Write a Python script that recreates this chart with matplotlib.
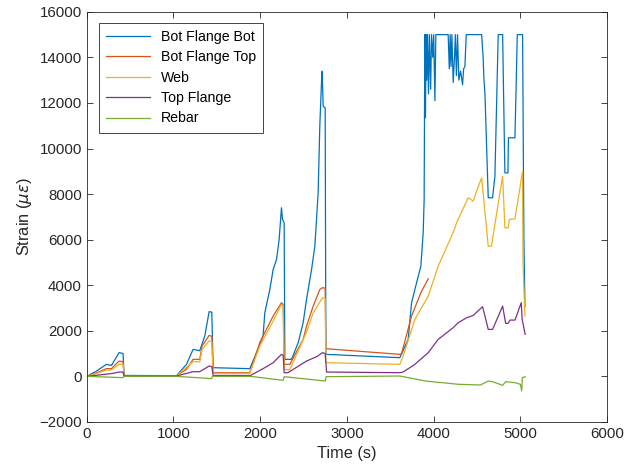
import matplotlib
matplotlib.use('Agg')
import matplotlib.pyplot as plt

plt.rcParams['font.family'] = ['Liberation Sans', 'DejaVu Sans']

# series (time s, strain microstrain)
t_bfb = [0, 100, 227, 285, 373, 411, 419, 430, 1035, 1150, 1226, 1303, 1361, 1411, 1442, 1457, 1880,
         1957, 2033, 2053, 2111, 2149, 2188, 2218, 2245, 2257, 2276, 2284, 2303, 2361, 2438,
         2495, 2534, 2592, 2630, 2668, 2687, 2707, 2714, 2726, 2749, 2757, 3610, 3706, 3745,
         3803, 3852, 3879, 3890, 3898, 3905, 3912, 3920, 3928, 3940, 3950, 3965,
         3975, 3990, 4000, 4014, 4025, 4167, 4180, 4190, 4200, 4210, 4225, 4240, 4250, 4262,
         4275, 4290, 4310, 4333, 4345, 4360, 4375, 4553, 4570, 4580, 4591, 4629, 4679, 4706,
         4744, 4795, 4805, 4821, 4856, 4862, 4937, 4964, 5025, 5040, 5052]
s_bfb = [0, 200, 526, 480, 1040, 1010, 1000, 40, 30, 526, 1184, 1127, 1770, 2837, 2820, 380, 338,
         1040, 1770, 2794, 3815, 4690, 5130, 6000, 7400, 6890, 6740, 746, 746, 746, 1477,
         2354, 3377, 4690, 5715, 8055, 10980, 12950, 13390, 11855, 11784, 965, 820, 1623, 3232,
         4110, 4838, 6300, 7760, 15000, 11350, 15000, 13000, 15000, 12400, 15000, 12600,
         15000, 14000, 15000, 12100, 15000, 15000, 13500, 15000, 13600, 15000, 12900, 14000, 15000, 13200,
         15000, 13000, 13400, 12800, 13500, 13600, 15000, 15000, 14000, 13000, 12400, 7840, 7840, 8790,
         15000, 15000, 12600, 8930, 8930, 10470, 10470, 15000, 15000, 6000, 3080]

t_bft = [0, 100, 227, 285, 373, 411, 419, 430, 1035, 1150, 1226, 1303, 1330, 1411, 1442, 1457, 1880,
         1995, 2033, 2149, 2245, 2265, 2276, 2341, 2495, 2534, 2611, 2687, 2718, 2749, 2757,
         3610, 3630, 3745, 3852, 3937]
s_bft = [0, 130, 338, 338, 672, 650, 640, 30, 30, 307, 746, 746, 1330, 1798, 1755, 160, 160,
         1477, 1770, 2645, 3232, 3150, 526, 526, 1623, 2206, 3083, 3815, 3890, 3873, 1214,
         965, 1000, 2645, 3671, 4284]

t_web = [0, 100, 227, 285, 373, 411, 419, 430, 1035, 1226, 1303, 1330, 1411, 1442, 1457, 1880,
         1995, 2149, 2245, 2265, 2276, 2341, 2534, 2611, 2718, 2749, 2757, 3610, 3648,
         3783, 3937, 4052, 4206, 4245, 4264, 4398, 4456, 4494, 4553, 4629, 4667, 4687,
         4795, 4821, 4860, 4872, 4937, 5025, 5030, 5052]
s_web = [0, 110, 278, 278, 526, 526, 520, 20, 20, 643, 643, 1184, 1550, 1530, 131, 131,
         1330, 2425, 3157, 3100, 307, 278, 1944, 2792, 3450, 3420, 600, 526, 890,
         2500, 3522, 4838, 6154, 6520, 6740, 7838, 7690, 8127, 8713, 5716, 5716, 6228,
         8785, 6521, 6521, 6886, 6916, 9006, 5000, 2645]

t_top = [0, 100, 303, 373, 411, 419, 430, 1035, 1226, 1303, 1411, 1442, 1457, 1888,
         2053, 2149, 2245, 2265, 2276, 2320, 2534, 2650, 2718, 2749, 2765, 3610, 3648,
         3783, 3937, 4052, 4225, 4283, 4380, 4456, 4564, 4629, 4679, 4795, 4830, 4856, 4880,
         4937, 5010, 5020, 5055]
s_top = [0, 40, 131, 190, 190, 185, 15, 15, 205, 205, 453, 430, 40, 40,
         380, 600, 965, 930, 160, 160, 672, 862, 1039, 1000, 190, 160, 190,
         526, 1039, 1623, 2136, 2354, 2573, 2675, 3057, 2061, 2061, 3083, 2325, 2325, 2470,
         2470, 3232, 2500, 1842]

t_reb = [0, 419, 425, 1035, 1440, 1450, 1888, 2265, 2276, 2749, 2760, 3610, 3905, 4290,
         4540, 4629, 4680, 4795, 4830, 4937, 5000, 5015, 5022, 5055]
s_reb = [0, -57, 0, 0, -100, 0, 0, -175, -15, -205, -15, 15, -205, -350,
         -380, -205, -234, -395, -234, -278, -350, -643, -57, -15]

series = [
    (t_bfb, s_bfb, 'Bot Flange Bot', '#0072BD'),
    (t_bft, s_bft, 'Bot Flange Top', '#D95319'),
    (t_web, s_web, 'Web', '#EDB120'),
    (t_top, s_top, 'Top Flange', '#7E2F8E'),
    (t_reb, s_reb, 'Rebar', '#77AC30'),
]

fig = plt.figure(figsize=(6.24, 4.73), dpi=100)
ax = fig.add_axes([0.139, 0.108, 0.834, 0.867])

for t, s, lab, c in series:
    ax.plot(t, s, color=c, lw=0.9, label=lab)

ax.set_xlim(0, 6000)
ax.set_ylim(-2000, 16000)
ax.set_xticks(range(0, 6001, 1000))
ax.set_yticks(range(-2000, 16001, 2000))
ax.tick_params(direction='in', top=True, right=True, labelsize=10.8, length=4, width=0.6,
               color='#262626', labelcolor='#262626')
for sp in ax.spines.values():
    sp.set_linewidth(0.6)
    sp.set_color('#262626')

ax.set_xlabel('Time (s)', fontsize=11.8, color='#262626')
ax.set_ylabel(r'Strain ($\mu\epsilon$)', fontsize=11.8, color='#262626')

leg = ax.legend(loc='upper left', bbox_to_anchor=(0.023, 0.973), borderaxespad=0,
                fontsize=10.2, fancybox=False, framealpha=1, edgecolor='#262626',
                borderpad=0.5, handlelength=3.1, labelspacing=0.45)
leg.get_frame().set_linewidth(0.6)

fig.savefig('out.png', dpi=100, facecolor='white')
